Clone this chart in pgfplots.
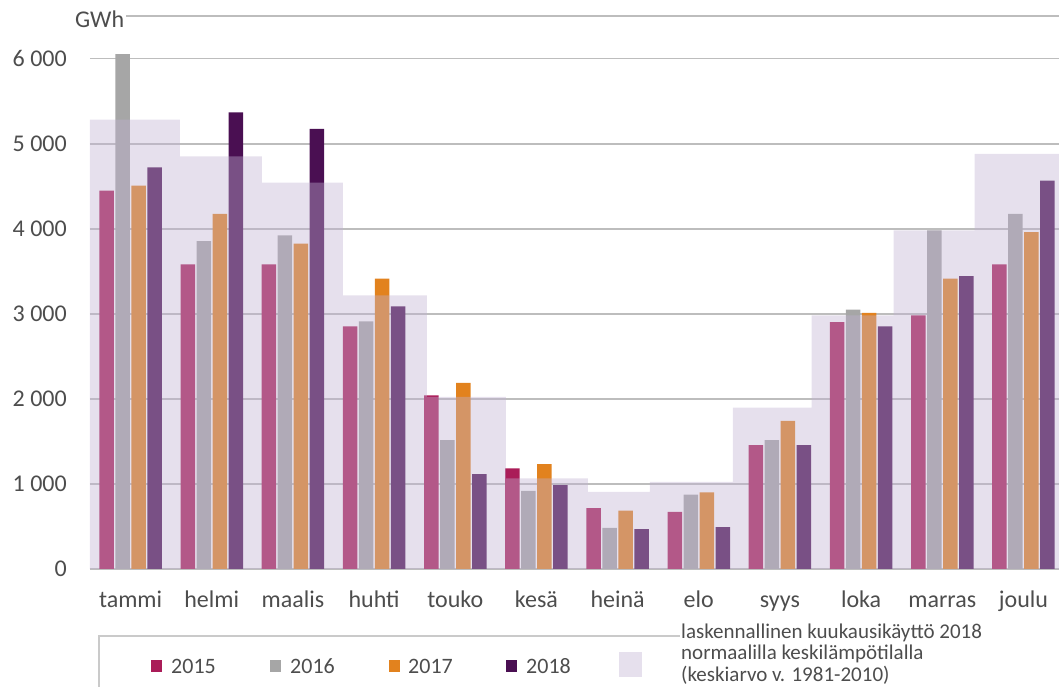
\documentclass[border=0pt]{standalone}
\usepackage{fontspec}
\setmainfont{Carlito}
\usepackage{pgfplots}
\pgfplotsset{compat=1.18}
\definecolor{cA}{HTML}{AA1C58}
\definecolor{cB}{HTML}{A6A6A6}
\definecolor{cC}{HTML}{E2821E}
\definecolor{cD}{HTML}{4A0F52}
\definecolor{boxc}{RGB}{193,178,210}
\definecolor{gridc}{HTML}{BDBDBD}
\definecolor{labc}{HTML}{4D4D4D}
\begin{document}
\begin{tikzpicture}[x=1pt,y=1pt]
\useasboundingbox (-90,-118) rectangle (969,569);
\begin{axis}[
  at={(0,0)}, anchor=south west, scale only axis,
  width=974pt, height=553pt,
  xmin=-0.5, xmax=11.5, ymin=0, ymax=6500,
  axis x line*=bottom, axis y line*=left,
  y axis line style={draw=none},
  x axis line style={draw=gridc, line width=1.8pt, -},
  xtick={0,...,11},
  xticklabels={tammi,helmi,maalis,huhti,touko,kesä,heinä,elo,syys,loka,marras,joulu},
  major x tick style={draw=none},
  extra x ticks={-0.5,0.5,...,11.5},
  extra x tick labels={},
  extra x tick style={tick align=outside, major tick length=8pt, tick style={draw=gridc, line width=1.2pt}},
  ytick={0,1000,...,6000},
  yticklabels={0,{1 000},{2 000},{3 000},{4 000},{5 000},{6 000}},
  major y tick style={draw=none},
  ymajorgrids, grid style={draw=gridc, line width=1.8pt},
  extra y ticks={6500}, extra y tick labels={}, extra y tick style={grid=major, major y tick style={draw=none}},
  tick label style={font=\fontsize{24}{28}\selectfont, text=labc},
  yticklabel style={anchor=east, inner sep=0pt, xshift=-23pt},
  xticklabel style={anchor=base, inner sep=0pt, yshift=-38pt},
]
\addplot[ybar, bar width=14.5pt, bar shift=-24pt, fill=cA, draw=none] coordinates
 {(0,4448) (1,3580) (2,3580) (3,2852) (4,2040) (5,1182) (6,715) (7,671) (8,1455) (9,2903) (10,2981) (11,3580)};
\addplot[ybar, bar width=14.5pt, bar shift=-8pt, fill=cB, draw=none] coordinates
 {(0,6052) (1,3853) (2,3920) (3,2911) (4,1514) (5,919) (6,483) (7,875) (8,1514) (9,3048) (10,3979) (11,4175)};
\addplot[ybar, bar width=14.5pt, bar shift=8pt, fill=cC, draw=none] coordinates
 {(0,4507) (1,4175) (2,3823) (3,3412) (4,2187) (5,1232) (6,685) (7,900) (8,1741) (9,3009) (10,3412) (11,3959)};
\addplot[ybar, bar width=14.5pt, bar shift=24pt, fill=cD, draw=none] coordinates
 {(0,4722) (1,5367) (2,5172) (3,3087) (4,1115) (5,986) (6,468) (7,493) (8,1455) (9,2852) (10,3443) (11,4566)};
\addplot[const plot, draw=none, fill=boxc, fill opacity=0.4] coordinates
 {(-0.5,5282) (0.608,4851) (1.618,4542) (2.616,3216) (3.650,2023) (4.623,1064) (5.633,907) (6.397,1025) (7.419,1898) (8.392,2980) (9.401,3979) (10.399,4879) (11.5,4879)} \closedcycle;
\end{axis}
% unit label
\node[anchor=west, fill=white, inner xsep=2pt, inner ysep=1pt, text=labc, font=\fontsize{24}{28}\selectfont] at (-17,550) {GWh};
% legend
\draw[draw=gridc!80, line width=1.5pt] (9,-140) -- (9,-67) -- (590,-67);
\fill[cA] (61,-91) rectangle (72,-103);
\fill[cB] (180,-91) rectangle (191,-103);
\fill[cC] (299,-91) rectangle (310,-103);
\fill[cD] (416,-91) rectangle (427,-103);
\fill[boxc, fill opacity=0.4] (529,-83) rectangle (552,-108);
\begin{scope}[every node/.style={anchor=west, inner sep=0pt, text=labc, font=\fontsize{21}{25}\selectfont}]
\node[font=\fontsize{22}{26}\selectfont] at (81,-97) {2015};
\node[font=\fontsize{22}{26}\selectfont] at (200,-97) {2016};
\node[font=\fontsize{22}{26}\selectfont] at (318,-97) {2017};
\node[font=\fontsize{22}{26}\selectfont] at (436,-97) {2018};
\node[fill=white, inner sep=1pt] at (590,-64) {laskennallinen kuukausikäyttö 2018};
\node at (591,-85) {normaalilla keskilämpötilalla};
\node at (591,-106) {(keskiarvo v. 1981-2010)};
\end{scope}
\end{tikzpicture}
\end{document}
